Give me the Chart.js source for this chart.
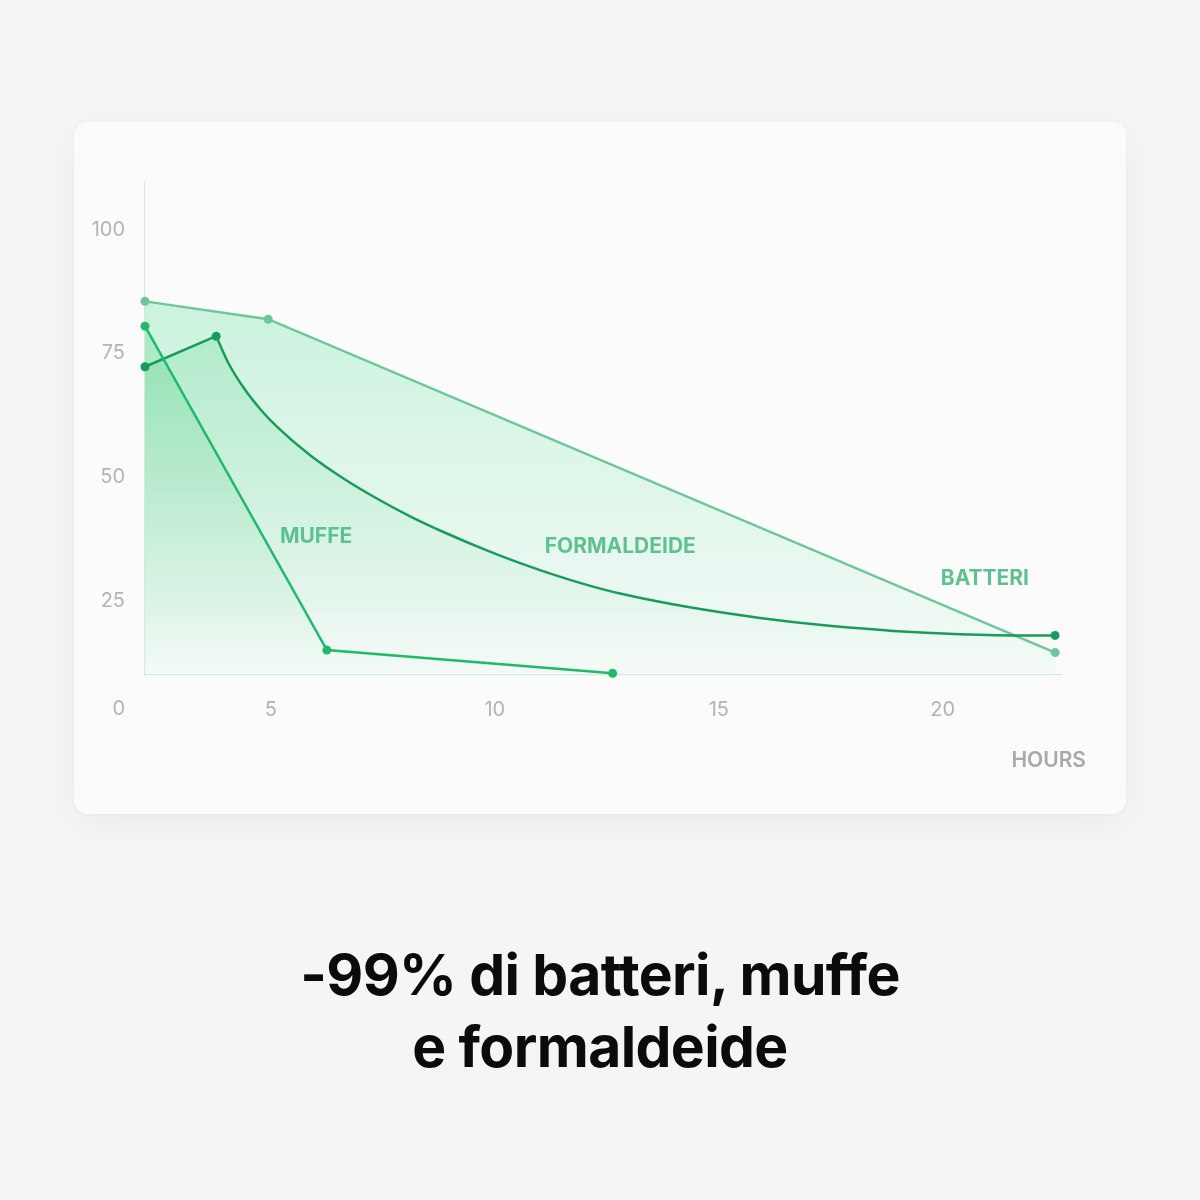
<!DOCTYPE html>
<html>
<head>
<meta charset="utf-8">
<script src="https://cdn.jsdelivr.net/npm/chart.js@4.4.1/dist/chart.umd.min.js"></script>
<style>
  html, body { margin: 0; padding: 0; background: #f5f5f7; }
  body { width: 1200px; height: 1200px; position: relative; overflow: hidden; font-family: Inter, "Noto Sans", sans-serif; }
  #card { position: absolute; left: 74px; top: 122px; width: 1052px; height: 692px; background: #fbfbfb; border-radius: 14px; box-shadow: 0 10px 40px rgba(0,0,0,0.045), 0 1px 3px rgba(0,0,0,0.03); }
  #wrap { position: absolute; left: 0; top: 0; width: 1200px; height: 860px; }
  #title { position: absolute; left: 0; top: 939px; width: 1200px; text-align: center; font-family: Inter, sans-serif; font-weight: 700; font-size: 57px; line-height: 72px; color: #0b0b0b; letter-spacing: -0.6px; }
</style>
</head>
<body>
<div id="card"></div>
<div id="wrap"><canvas id="c"></canvas></div>
<div id="title">-99% di batteri, muffe<br>e formaldeide</div>
<script>
// ---- data ----
const batteriHours = [2.19, 4.94, 22.51];
const batteriValues = [85.5, 81.9, 14.6];

const muffeHours = [2.19, 6.25, 12.63];
const muffeValues = [80.5, 15.1, 10.4];

const formaldeideHours = [2.19, 3.779, 4.054, 4.388, 4.76, 5.134, 5.877, 6.621, 7.366, 8.109, 8.853, 9.821, 10.565, 11.308, 12.054, 12.797, 14.286, 15.922, 17.411, 18.897, 20.386, 21.875, 22.507];
const formaldeideValues = [72.3, 78.47, 73.0, 68.1, 63.78, 60.21, 54.44, 49.74, 45.7, 42.11, 38.94, 35.23, 32.65, 30.33, 28.27, 26.51, 23.83, 21.59, 20.04, 18.97, 18.32, 18.06, 18.06];

const xTickValues = [5, 10, 15, 20];
const yTickValues = [25, 50, 75, 100];
const seriesNames = ['MUFFE', 'FORMALDEIDE', 'BATTERI'];
const xAxisName = 'HOURS';
const originTick = '0';

// ---- helpers ----
function pts(xs, ys) { return xs.map((x, i) => ({ x: x, y: ys[i] })); }
function gradientFill(rgb, aTop, aBottom, topValue) {
  return function (ctx) {
    const chart = ctx.chart;
    const area = chart.chartArea;
    if (!area) return 'rgba(' + rgb + ',' + aTop + ')';
    const top = chart.scales.y.getPixelForValue(topValue);
    const g = chart.ctx.createLinearGradient(0, top, 0, area.bottom);
    g.addColorStop(0, 'rgba(' + rgb + ',' + aTop + ')');
    g.addColorStop(1, 'rgba(' + rgb + ',' + aBottom + ')');
    return g;
  };
}

const cBatteri = '#6cc89b';
const cMuffe = '#1fba6a';
const cForm = '#179d5a';
const lastCurveIdx = formaldeideHours.length - 2;

const labelPlugin = {
  id: 'labelPlugin',
  afterDraw(chart, args, opts) {
    const ctx = chart.ctx;
    const xs = chart.scales.x, ys = chart.scales.y;
    const area = chart.chartArea;
    ctx.save();
    ctx.textBaseline = 'middle';
    ctx.textAlign = 'center';
    ctx.font = '700 21px Inter, sans-serif';
    ctx.fillStyle = '#5ec290';
    opts.items.forEach(it => {
      ctx.fillText(it.text, xs.getPixelForValue(it.x), ys.getPixelForValue(it.y));
    });
    // origin tick label
    ctx.font = '400 20px Inter, sans-serif';
    ctx.fillStyle = '#b3b3b3';
    ctx.textAlign = 'right';
    ctx.fillText(originTick, area.left - 20, area.bottom + 34);
    // axis name
    ctx.font = '600 21px Inter, sans-serif';
    ctx.fillStyle = '#a9a9a9';
    ctx.fillText(xAxisName, area.right + 25, area.bottom + 86);
    ctx.restore();
  }
};

new Chart(document.getElementById('c'), {
  type: 'line',
  data: {
    datasets: [
      {
        label: seriesNames[0],
        data: pts(muffeHours, muffeValues),
        borderColor: cMuffe, backgroundColor: gradientFill('40,190,100', 0.24, 0.0, 86),
        pointBackgroundColor: cMuffe, pointBorderWidth: 0, pointRadius: 4.5,
        borderWidth: 2.5, fill: 'start', tension: 0, clip: false
      },
      {
        // rising straight segment
        label: seriesNames[1] + ' rise',
        data: pts(formaldeideHours.slice(0, 2), formaldeideValues.slice(0, 2)),
        borderColor: cForm, backgroundColor: 'rgba(0,0,0,0)',
        pointBackgroundColor: cForm, pointBorderWidth: 0, pointRadius: 4.5,
        borderWidth: 2.5, fill: false, tension: 0, clip: false
      },
      {
        // smooth decay curve stroke
        label: seriesNames[1] + ' curve',
        data: pts(formaldeideHours.slice(1), formaldeideValues.slice(1)),
        borderColor: cForm, backgroundColor: 'rgba(0,0,0,0)',
        pointBackgroundColor: cForm, pointBorderWidth: 0,
        pointRadius: ctx => (ctx.dataIndex === lastCurveIdx ? 4.5 : 0),
        borderWidth: 2.5, fill: false, cubicInterpolationMode: 'monotone', clip: false
      },
      {
        // area under the whole formaldeide series
        label: seriesNames[1],
        data: pts(formaldeideHours, formaldeideValues),
        borderColor: 'rgba(0,0,0,0)', borderWidth: 0,
        backgroundColor: gradientFill('60,200,120', 0.22, 0.0, 86),
        pointRadius: 0, fill: 'start', tension: 0, clip: false
      },
      {
        label: seriesNames[2],
        data: pts(batteriHours, batteriValues),
        borderColor: cBatteri, backgroundColor: gradientFill('110,228,165', 0.34, 0.04, 86),
        pointBackgroundColor: cBatteri, pointBorderWidth: 0, pointRadius: 4.5,
        borderWidth: 2.5, fill: 'start', tension: 0, clip: false
      }
    ]
  },
  options: {
    responsive: true,
    maintainAspectRatio: false,
    animation: false,
    events: [],
    layout: { padding: { left: 0, top: 182, right: 139, bottom: 105 } },
    plugins: {
      legend: { display: false },
      tooltip: { enabled: false },
      filler: { drawTime: 'beforeDatasetsDraw' },
      labelPlugin: {
        items: [
          { text: seriesNames[0], x: 6.01, y: 37.9 },
          { text: seriesNames[1], x: 12.8, y: 35.9 },
          { text: seriesNames[2], x: 20.94, y: 29.6 }
        ]
      }
    },
    scales: {
      x: {
        type: 'linear', min: 2.19, max: 22.64,
        afterBuildTicks: s => { s.ticks = xTickValues.map(v => ({ value: v })); },
        afterFit: s => { s.height = 80; },
        grid: { display: false, drawTicks: false },
        border: { display: true, color: '#d3ece0', width: 1.2 },
        ticks: { padding: 23, color: '#b3b3b3', font: { family: 'Inter', size: 20, weight: 400 }, maxRotation: 0 }
      },
      y: {
        type: 'linear', min: 10.07, max: 109.6,
        afterBuildTicks: s => { s.ticks = yTickValues.map(v => ({ value: v })); },
        afterFit: s => { s.width = 145; },
        grid: { display: false, drawTicks: false },
        border: { display: true, color: '#d3ece0', width: 1.2 },
        ticks: { padding: 20, color: '#b3b3b3', font: { family: 'Inter', size: 20, weight: 400 } }
      }
    }
  },
  plugins: [labelPlugin]
});
</script>
</body>
</html>
